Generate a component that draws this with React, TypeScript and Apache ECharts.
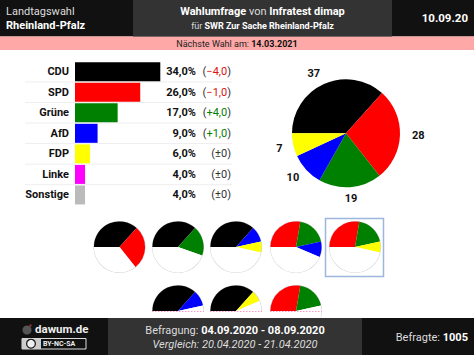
import React, { useEffect, useRef } from "react";
import * as echarts from "echarts";

const parties = ["CDU", "SPD", "Grüne", "AfD", "FDP", "Linke", "Sonstige"];
const percent = [34, 26, 17, 9, 6, 4, 4];
const percentLabels = ["34,0%", "26,0%", "17,0%", "9,0%", "6,0%", "4,0%", "4,0%"];
const deltas = ["−4,0", "−1,0", "+4,0", "+1,0", "±0", "±0", "±0"];
const partyColors = ["#000000", "#ff0000", "#008000", "#0000ff", "#ffff00", "#ff00ff", "#bbbbbb"];

const seatParties = ["CDU", "SPD", "Grüne", "AfD", "FDP"];
const seats = [37, 28, 19, 10, 7];
const seatColors = ["#000000", "#ff0000", "#008000", "#0000ff", "#ffff00"];
const seatLabelOffsets = [[4, -4], [0, 0], [-11, 4], [3, 3], [1, 2]];
const totalSeats = 101;

const coalitionsRow1 = [
  ["CDU", "SPD"],
  ["CDU", "Grüne"],
  ["CDU", "AfD", "FDP"],
  ["SPD", "Grüne", "AfD"],
  ["SPD", "Grüne", "FDP"],
];
const coalitionsRow2 = [
  ["CDU", "AfD"],
  ["CDU", "FDP"],
  ["SPD", "Grüne"],
];
const row1X = [119.5, 178, 236, 296, 355];
const row2X = [178, 236, 296];

const FONT = "Roboto";

function coalitionSeries(names: string[], cx: number, cy: number) {
  const slices = names.map((n) => {
    const i = seatParties.indexOf(n);
    return { name: n, value: seats[i], itemStyle: { color: seatColors[i] } };
  });
  const used = slices.reduce((s, d) => s + d.value, 0);
  const base = {
    type: "pie",
    center: [cx, cy],
    startAngle: 180,
    silent: true,
    label: { show: false },
    labelLine: { show: false },
  };
  return [
    {
      ...base,
      radius: [25, 26],
      z: 1,
      data: [{ value: totalSeats, itemStyle: { color: "#cccccc" } }],
    },
    {
      ...base,
      radius: [0, 25.6],
      z: 2,
      data: [...slices, { name: "Rest", value: totalSeats - used, itemStyle: { color: "#ffffff" } }],
    },
  ];
}

function txt(x: number, y: number, text: string, rich: any, align = "left", extra: any = {}) {
  return {
    type: "text",
    x,
    y,
    z: 120,
    style: { text, rich, align, verticalAlign: "middle", fontFamily: FONT, ...extra },
  };
}

function rect(x: number, y: number, width: number, height: number, fill: string, z = 100) {
  return { type: "rect", z, shape: { x, y, width, height }, style: { fill } };
}

export default function App() {
  const ref = useRef<HTMLDivElement>(null);
  useEffect(() => {
    document.body.style.margin = "0";
    const chart = echarts.init(ref.current!, undefined, { renderer: "svg" });
    const rowH = 20.55;
    const gridTop = 61.4;
    const separators = parties.slice(1).map((_, i) => ({
      type: "line",
      z: 0,
      shape: { x1: 25, x2: 232, y1: gridTop + rowH * (i + 1), y2: gridTop + rowH * (i + 1) },
      style: { stroke: "#eeeeee", lineWidth: 1 },
    }));
    const hidden = { axisLine: { show: false }, axisTick: { show: false }, splitLine: { show: false } };
    const row2Series = coalitionsRow2.flatMap((c, i) => coalitionSeries(c, row2X[i], 311));
    const row1Series = coalitionsRow1.flatMap((c, i) => coalitionSeries(c, row1X[i], 247));

    chart.setOption({
      animation: false,
      backgroundColor: "#ffffff",
      textStyle: { fontFamily: FONT },
      grid: { left: 75, top: gridTop, width: 85.3, height: rowH * 7 },
      xAxis: { type: "value", min: 0, max: 34, show: false },
      yAxis: [
        {
          type: "category",
          inverse: true,
          data: parties,
          ...hidden,
          axisLabel: { fontFamily: FONT, fontSize: 11, fontWeight: "bold", color: "#111", margin: 6 },
        },
        {
          type: "category",
          inverse: true,
          position: "right",
          data: percentLabels,
          ...hidden,
          axisLabel: { fontFamily: FONT, fontSize: 11, fontWeight: "bold", color: "#111", margin: 35.7, align: "right" },
        },
        {
          type: "category",
          inverse: true,
          position: "right",
          data: deltas,
          ...hidden,
          axisLabel: {
            margin: 70.7,
            align: "right",
            fontFamily: FONT,
            fontSize: 11,
            color: "#333",
            formatter: (v: string) => {
              const k = v[0] === "−" ? "r" : v[0] === "+" ? "g" : "n";
              return `{n|(}{${k}|${v}}{n|)}`;
            },
            rich: {
              n: { fontFamily: FONT, fontSize: 11, color: "#333" },
              r: { fontFamily: FONT, fontSize: 11, color: "#e01010" },
              g: { fontFamily: FONT, fontSize: 11, color: "#008000" },
            },
          },
        },
      ],
      series: [
        {
          type: "bar",
          barWidth: 19,
          silent: true,
          data: percent.map((v, i) => ({ value: v, itemStyle: { color: partyColors[i] } })),
          z: 3,
        },
        {
          type: "pie",
          center: [346, 133.3],
          radius: [0, 54],
          startAngle: 180,
          silent: true,
          label: {
            show: true,
            position: "outside",
            formatter: "{c}",
            fontFamily: FONT,
            fontSize: 11,
            fontWeight: "bold",
            color: "#111",
          },
          labelLine: { show: false, length: 7, length2: 0 },
          labelLayout: (p: any) => ({ dx: seatLabelOffsets[p.dataIndex][0], dy: seatLabelOffsets[p.dataIndex][1] }),
          data: seats.map((v, i) => ({ name: seatParties[i], value: v, itemStyle: { color: seatColors[i] } })),
        },
        ...row1Series,
        ...row2Series,
      ],
      graphic: [
        ...separators,
        // header
        rect(0, 0, 474, 36.5, "#111111"),
        rect(133, 0, 259, 36.5, "#333333", 101),
        rect(0, 36.5, 474, 13.5, "#ffa8a8"),
        txt(6, 11, "Landtagswahl", {}, "left", { fontSize: 11, fill: "#dddddd" }),
        txt(6, 25, "Rheinland-Pfalz", {}, "left", { fontSize: 11, fontWeight: "bold", fill: "#ffffff" }),
        txt(262.5, 11.5, "{b|Wahlumfrage} {r|von} {b|Infratest dimap}", {
          b: { fontFamily: FONT, fontSize: 11, fontWeight: "bold", fill: "#fff" },
          r: { fontFamily: FONT, fontSize: 11, fill: "#ddd" },
        }, "center", { fill: "#ddd", fontSize: 11 }),
        txt(262.5, 26, "{r|für} {b|SWR Zur Sache Rheinland-Pfalz}", {
          b: { fontFamily: FONT, fontSize: 9, fontWeight: "bold", fill: "#fff" },
          r: { fontFamily: FONT, fontSize: 9, fill: "#ddd" },
        }, "center", { fill: "#ddd", fontSize: 9 }),
        txt(468, 18, "10.09.20", {}, "right", { fontSize: 11.5, fontWeight: "bold", fill: "#ffffff" }),
        txt(237, 43.5, "{r|Nächste Wahl am:} {b|14.03.2021}", {
          b: { fontFamily: FONT, fontSize: 9, fontWeight: "bold", fill: "#111" },
          r: { fontFamily: FONT, fontSize: 9, fill: "#222" },
        }, "center", { fill: "#222", fontSize: 9 }),
        // highlighted coalition
        {
          type: "rect",
          z: 50,
          shape: { x: 325.5, y: 218.5, width: 58, height: 58 },
          style: { fill: "none", stroke: "#9db6dd", lineWidth: 1.5 },
        },
        // clipped row
        rect(145, 311.5, 170, 6.5, "#ffffff", 60),
        ...row2X.map((x) => ({
          type: "line",
          z: 61,
          shape: { x1: x - 26, x2: x + 26, y1: 311.5, y2: 311.5 },
          style: { stroke: "#ff9ac8", lineWidth: 1, lineDash: [1.5, 1.5] },
        })),
        // footer
        rect(0, 318, 474, 37, "#111111"),
        rect(108, 318, 254, 37, "#333333", 101),
        { type: "circle", z: 120, shape: { cx: 27, cy: 330, r: 4.5 }, style: { fill: "#555555" } },
        { type: "circle", z: 121, shape: { cx: 30.5, cy: 325.5, r: 1.2 }, style: { fill: "#a03040" } },
        txt(35, 329, "dawum.de", {}, "left", { fontSize: 11.5, fontWeight: "bold", fill: "#eeeeee" }),
        {
          type: "rect",
          z: 120,
          shape: { x: 22, y: 338.5, width: 64, height: 10.5 },
          style: { fill: "#111111", stroke: "#dddddd", lineWidth: 1 },
        },
        rect(22, 338.5, 19, 10.5, "#cccccc", 121),
        { type: "circle", z: 122, shape: { cx: 31, cy: 343.7, r: 4.4 }, style: { fill: "#eeeeee", stroke: "#111111", lineWidth: 1.2 } },
        txt(31, 344, "cc", {}, "center", { fontSize: 6, fontWeight: "bold", fill: "#111111" }),
        txt(43, 344, "BY-NC-SA", {}, "left", { fontSize: 7, fontWeight: "bold", fill: "#eeeeee" }),
        txt(235, 330, "{r|Befragung:} {b|04.09.2020 - 08.09.2020}", {
          b: { fontFamily: FONT, fontSize: 11, fontWeight: "bold", fill: "#fff" },
          r: { fontFamily: FONT, fontSize: 11, fill: "#ddd" },
        }, "center", { fill: "#ddd", fontSize: 11 }),
        txt(235, 344, "Vergleich: 20.04.2020 - 21.04.2020", {}, "center", { fontSize: 11, fontStyle: "italic", fill: "#dddddd" }),
        txt(468, 337, "{r|Befragte:} {b|1005}", {
          b: { fontFamily: FONT, fontSize: 11, fontWeight: "bold", fill: "#fff" },
          r: { fontFamily: FONT, fontSize: 11, fill: "#ddd" },
        }, "right", { fill: "#ddd", fontSize: 11 }),
      ],
    });
    return () => chart.dispose();
  }, []);
  return <div ref={ref} style={{ width: 474, height: 355 }} />;
}
